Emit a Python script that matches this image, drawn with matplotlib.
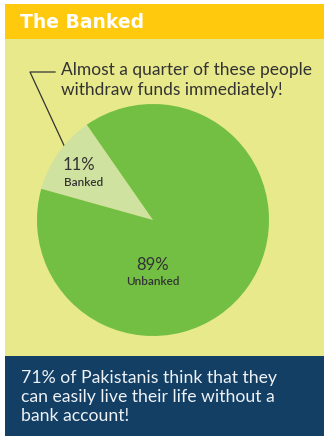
import matplotlib
matplotlib.use("Agg")
import matplotlib.pyplot as plt
from matplotlib.patches import Rectangle

# Data
categories = ["Banked", "Unbanked"]
shares = [11, 89]
title = "The Banked"
callout = "Almost a quarter of these people\nwithdraw funds immediately!"
footer = "71% of Pakistanis think that they\ncan easily live their life without a\nbank account!"

W, H = 324, 439
DPI = 100
fig = plt.figure(figsize=(W / DPI, H / DPI), dpi=DPI)
fig.patch.set_facecolor("white")

# Background canvas in pixel units
bg = fig.add_axes([0, 0, 1, 1])
bg.set_xlim(0, W)
bg.set_ylim(H, 0)
bg.axis("off")

YELLOW = "#FFC90E"
PANEL = "#E8E98A"
GREEN = "#72BF44"
LIGHT = "#D0E2A0"
NAVY = "#133F65"
INK = "#333333"
FONT = ["Lato", "DejaVu Sans"]

bg.add_patch(Rectangle((5, 5), W - 5, 35, color=YELLOW, lw=0))
bg.add_patch(Rectangle((5, 40), W - 5, 318, color=PANEL, lw=0))
bg.add_patch(Rectangle((5, 357), W - 5, 80, color=NAVY, lw=0))

bg.text(20, 22, title, color="white", fontsize=13.5, fontweight="bold",
        family="DejaVu Sans", va="center", ha="left")

bg.text(61, 80, callout, color=INK, fontsize=12.5, family=FONT,
        va="center", ha="left", linespacing=1.25)

# Leader line from the callout to the small slice
bg.plot([55, 30, 68], [73, 73, 155], color=INK, lw=0.9)

bg.text(21, 397, footer, color="#EEF2F6", fontsize=12.7, family=FONT,
        va="center", ha="left", linespacing=1.22)

# Pie chart
cx, cy, r = 153, 221, 116
ax = fig.add_axes([(cx - r) / W, (H - cy - r) / H, 2 * r / W, 2 * r / H])
wedges, _ = ax.pie(shares, colors=[LIGHT, GREEN], startangle=124.8,
                   counterclock=True, radius=1,
                   wedgeprops=dict(linewidth=0))
ax.set_xlim(-1, 1)
ax.set_ylim(-1, 1)
ax.set_aspect("auto")
ax.axis("off")

# Slice labels
ax.text(-0.635, 0.48, f"{shares[0]}%", color=INK, fontsize=12, family=FONT,
        ha="center", va="center")
ax.text(-0.6, 0.33, categories[0], color=INK, fontsize=8.5, family=FONT,
        fontweight="semibold", ha="center", va="center")
ax.text(0.0, -0.375, f"{shares[1]}%", color=INK, fontsize=12, family=FONT,
        ha="center", va="center")
ax.text(0.0, -0.52, categories[1], color=INK, fontsize=8.5, family=FONT,
        fontweight="semibold", ha="center", va="center")

fig.savefig("out.png", dpi=DPI)
